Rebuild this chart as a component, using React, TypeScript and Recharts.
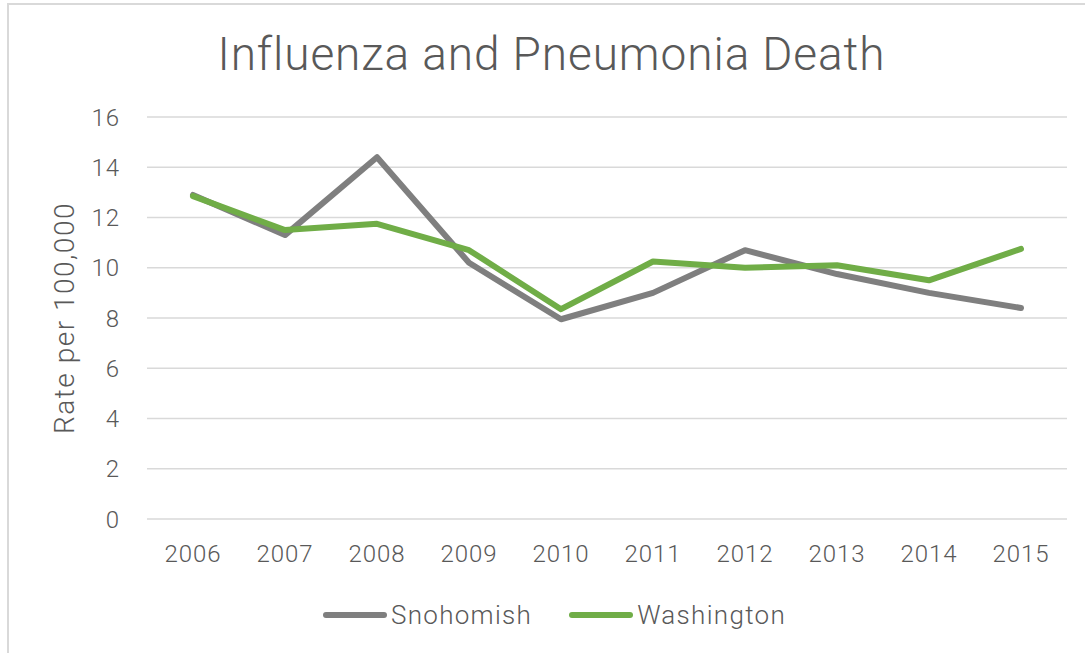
import React from 'react';
import { LineChart, Line, XAxis, YAxis, CartesianGrid, Legend } from 'recharts';

const years = ['2006', '2007', '2008', '2009', '2010', '2011', '2012', '2013', '2014', '2015'];
const snohomish = [12.9, 11.3, 14.4, 10.2, 7.95, 9.0, 10.7, 9.75, 9.0, 8.4];
const washington = [12.85, 11.5, 11.75, 10.7, 8.35, 10.25, 10.0, 10.1, 9.5, 10.75];
const yTicks = [0, 2, 4, 6, 8, 10, 12, 14, 16];

const seriesMeta = [
  { key: 'Snohomish', color: '#7f7f7f' },
  { key: 'Washington', color: '#70ad47' },
];

const data = years.map((y, i) => ({ year: y, Snohomish: snohomish[i], Washington: washington[i] }));

const FONT = 'Roboto, "DejaVu Sans", sans-serif';
const TEXT = '#595959';

const renderLegend = () => (
  <div
    style={{
      display: 'flex',
      justifyContent: 'center',
      alignItems: 'center',
      height: 30,
      width: 1085,
      transform: 'translateX(12px)',
      fontFamily: FONT,
      fontSize: 26,
      letterSpacing: 1.3,
      fontWeight: 300,
      color: TEXT,
    }}
  >
    {seriesMeta.map((s, i) => (
      <div key={s.key} style={{ display: 'flex', alignItems: 'center', marginLeft: i === 0 ? 0 : 37 }}>
        <svg width={64} height={10} style={{ display: 'block' }}>
          <line x1={3} y1={5} x2={61} y2={5} stroke={s.color} strokeWidth={6} strokeLinecap="round" />
        </svg>
        <span style={{ marginLeft: 4 }}>{s.key}</span>
      </div>
    ))}
  </div>
);

export default function App() {
  return (
    <div style={{ position: 'absolute', left: 0, top: 0, width: 1085, height: 653, overflow: 'hidden', background: '#fff' }}>
      <div
        style={{
          position: 'absolute',
          left: 7,
          top: 3,
          width: 1200,
          height: 800,
          border: '2px solid #d9d9d9',
        }}
      />
      <div
        style={{
          position: 'absolute',
          left: 0,
          width: 1103,
          top: 26,
          textAlign: 'center',
          fontFamily: FONT,
          fontWeight: 300,
          fontSize: 46,
          letterSpacing: 0.9,
          color: TEXT,
          lineHeight: '56px',
        }}
      >
        Influenza and Pneumonia Death
      </div>
      <div style={{ position: 'absolute', left: 0, top: 0 }}>
        <LineChart width={1085} height={653} data={data} margin={{ top: 117, right: 18, left: 0, bottom: 64 }}>
          <CartesianGrid vertical={false} stroke="#d9d9d9" strokeWidth={1.5} />
          <XAxis
            dataKey="year"
            axisLine={false}
            tickLine={false}
            tickSize={0}
            tickMargin={26}
            height={40}
            padding={{ left: 46, right: 46 }}
            tick={{ fill: TEXT, fontSize: 24, fontFamily: FONT, fontWeight: 300, letterSpacing: 1 }}
            interval={0}
          />
          <YAxis
            width={147}
            domain={[0, 16]}
            ticks={yTicks}
            axisLine={false}
            tickLine={false}
            tickSize={0}
            tickMargin={27}
            tick={{ fill: TEXT, fontSize: 24, fontFamily: FONT, fontWeight: 300, letterSpacing: 1 }}
            label={{
              value: 'Rate per 100,000',
              angle: -90,
              position: 'insideLeft',
              offset: 64,
              style: { textAnchor: 'middle', fill: TEXT, fontSize: 28, fontFamily: FONT, fontWeight: 300, letterSpacing: 1.5 },
            }}
          />
          <Legend verticalAlign="bottom" content={renderLegend} wrapperStyle={{ top: 600, left: 0, width: 1085, height: 30 }} />
          {seriesMeta.map((s) => (
            <Line
              key={s.key}
              type="linear"
              dataKey={s.key}
              stroke={s.color}
              strokeWidth={6}
              dot={false}
              activeDot={false}
              isAnimationActive={false}
              strokeLinejoin="round"
              strokeLinecap="round"
            />
          ))}
        </LineChart>
      </div>
    </div>
  );
}
